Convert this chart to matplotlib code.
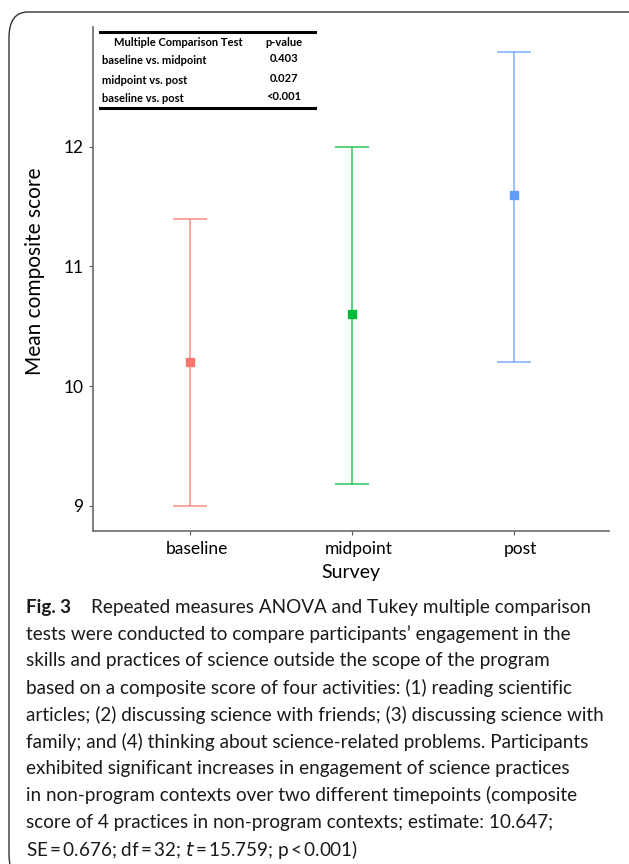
import matplotlib.pyplot as plt
import matplotlib.transforms as mtransforms
from matplotlib.patches import FancyBboxPatch

# data
surveys = ["baseline", "midpoint", "post"]
means = [10.2, 10.6, 11.6]
lower = [9.0, 9.18, 10.2]
upper = [11.4, 12.0, 12.79]
colors = ["#F8766D", "#00BA38", "#619CFF"]

tests = ["baseline vs. midpoint", "midpoint vs. post", "baseline vs. post"]
pvalues = ["0.403", "0.027", "<0.001"]

caption_lines = [
    "Repeated measures ANOVA and Tukey multiple comparison",
    "tests were conducted to compare participants\u2019 engagement in the",
    "skills and practices of science outside the scope of the program",
    "based on a composite score of four activities: (1) reading scientific",
    "articles; (2) discussing science with friends; (3) discussing science with",
    "family; and (4) thinking about science-related problems. Participants",
    "exhibited significant increases in engagement of science practices",
    "in non-program contexts over two different timepoints (composite",
    "score of 4 practices in non-program contexts; estimate: 10.647;",
    "SE\u2009=\u20090.676; df\u2009=\u200932; $t$\u2009=\u200915.759; p\u2009<\u20090.001)",
]

W, H = 629, 864
plt.rcParams['font.family'] = ['Lato', 'DejaVu Sans']

fig = plt.figure(figsize=(W / 100, H / 100), dpi=100)


def fx(px):
    return px / W


def fy(py):
    return 1 - py / H


# rounded frame around figure + caption
frame = FancyBboxPatch((fx(9), fy(880)), 640 / W, 868 / H,
                       boxstyle="round,pad=0,rounding_size=0.03",
                       transform=fig.transFigure, fill=False,
                       edgecolor="#333333", linewidth=1.0)
fig.patches.append(frame)

ax = fig.add_axes([fx(93), fy(531), 516 / W, 504 / H])
x = list(range(len(surveys)))
for i in x:
    ax.errorbar(i, means[i],
                yerr=[[means[i] - lower[i]], [upper[i] - means[i]]],
                fmt="none", ecolor=colors[i], elinewidth=1.3, capsize=12,
                capthick=1.3, alpha=0.7)
    ax.plot(i, means[i], marker="s", color=colors[i], markersize=6,
            linestyle="none")

ax.set_xlim(-0.6, 2.59)
ax.set_ylim(8.79, 13.0)
ax.set_xticks(x)
ax.set_xticklabels(surveys, fontsize=12.5)
ax.set_yticks([9, 10, 11, 12])
ax.tick_params(labelsize=12.5, length=3, color="#555555", width=0.8, pad=4)
# labels in the reference sit a little right of their ticks
shift = mtransforms.ScaledTranslation(7 / 100, 0, fig.dpi_scale_trans)
for lbl in ax.get_xticklabels():
    lbl.set_transform(lbl.get_transform() + shift)
ax.spines["top"].set_visible(False)
ax.spines["right"].set_visible(False)
ax.spines["left"].set_color("#6b6b6b")
ax.spines["bottom"].set_color("#6b6b6b")
ax.spines["left"].set_linewidth(1.2)
ax.spines["bottom"].set_linewidth(1.2)
ax.set_xlabel("Survey", fontsize=14, labelpad=5)
ax.set_ylabel("Mean composite score", fontsize=15)
ax.yaxis.set_label_coords((45 - 93) / 516, (531 - 271) / 504)

# comparison table in the top left
fig.add_artist(plt.Line2D([fx(100), fx(315)], [fy(32), fy(32)],
                          color="black", linewidth=2.2))
fig.add_artist(plt.Line2D([fx(100), fx(315)], [fy(108), fy(108)],
                          color="black", linewidth=2.2))
fig.text(fx(178), fy(42), "Multiple Comparison Test", fontsize=8,
         fontweight="bold", ha="center", va="center")
fig.text(fx(284), fy(42), "p-value", fontsize=8, fontweight="bold",
         ha="center", va="center")
row_y = [61, 80, 98]
for t, p, ry in zip(tests, pvalues, row_y):
    fig.text(fx(102), fy(ry), t, fontsize=8, fontweight="bold",
             ha="left", va="center")
    fig.text(fx(284), fy(ry - 2), p, fontsize=8, fontweight="bold",
             ha="center", va="center")

# caption
fig.text(fx(26), fy(607), "Fig. 3", fontsize=13.5, fontweight="bold",
         ha="left", va="center", color="#1a1a1a")
for k, line in enumerate(caption_lines):
    xx = 91 if k == 0 else 26
    fig.text(fx(xx), fy(607 + k * 26.9), line, fontsize=13.6,
             ha="left", va="center", color="#1a1a1a")

fig.savefig("out.png", dpi=100)
